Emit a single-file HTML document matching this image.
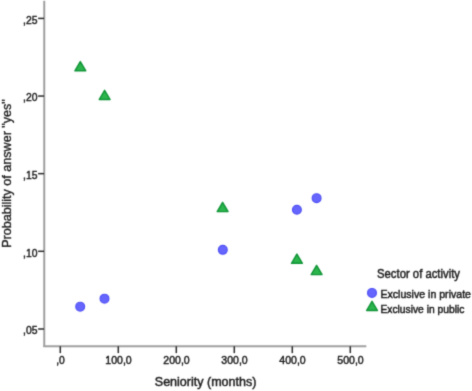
<!DOCTYPE html>
<html><head><meta charset="utf-8"><title>Chart</title>
<style>
html,body{margin:0;padding:0;background:#fff;}
svg{display:block;}
text{font-family:"Liberation Sans",Arial,sans-serif;fill:#1a1a1a;stroke:#1a1a1a;stroke-width:0.45px;}
.t11{font-size:11px;}
.t12{font-size:12.5px;}
</style></head><body>
<svg width="472" height="391" viewBox="0 0 472 391">
<defs><filter id="soft" x="-2%" y="-2%" width="104%" height="104%" color-interpolation-filters="sRGB"><feConvolveMatrix order="3" kernelMatrix="0.05 0.22 0.05 0.22 1 0.22 0.05 0.22 0.05" divisor="2.08" edgeMode="none" preserveAlpha="false"/></filter></defs>
<rect x="0" y="0" width="472" height="391" fill="#ffffff"/>
<g filter="url(#soft)">

<line x1="44.25" y1="0.8" x2="44.25" y2="347" stroke="#9a9a9a" stroke-width="1.9"/>
<line x1="43.4" y1="346.3" x2="366.3" y2="346.3" stroke="#9f9f9f" stroke-width="1.9"/>
<line x1="38.1" y1="18.4" x2="44" y2="18.4" stroke="#2a2a2a" stroke-width="1.5"/>
<text class="t11" style="font-size:11.5px" x="37.4" y="23.7" text-anchor="end" textLength="14.4" lengthAdjust="spacingAndGlyphs">,25</text>
<line x1="38.1" y1="96.05" x2="44" y2="96.05" stroke="#2a2a2a" stroke-width="1.5"/>
<text class="t11" style="font-size:11.5px" x="37.4" y="101.3" text-anchor="end" textLength="14.4" lengthAdjust="spacingAndGlyphs">,20</text>
<line x1="38.1" y1="173.65" x2="44" y2="173.65" stroke="#2a2a2a" stroke-width="1.5"/>
<text class="t11" style="font-size:11.5px" x="37.4" y="179.0" text-anchor="end" textLength="14.4" lengthAdjust="spacingAndGlyphs">,15</text>
<line x1="38.1" y1="251.3" x2="44" y2="251.3" stroke="#2a2a2a" stroke-width="1.5"/>
<text class="t11" style="font-size:11.5px" x="37.4" y="256.6" text-anchor="end" textLength="14.4" lengthAdjust="spacingAndGlyphs">,10</text>
<line x1="38.1" y1="329.0" x2="44" y2="329.0" stroke="#2a2a2a" stroke-width="1.5"/>
<text class="t11" style="font-size:11.5px" x="37.4" y="334.3" text-anchor="end" textLength="14.4" lengthAdjust="spacingAndGlyphs">,05</text>
<line x1="60.3" y1="346.3" x2="60.3" y2="353.1" stroke="#2a2a2a" stroke-width="1.5"/>
<text class="t11" x="60.5" y="364.2" text-anchor="middle" textLength="8.6" lengthAdjust="spacingAndGlyphs">,0</text>
<line x1="118.3" y1="346.3" x2="118.3" y2="353.1" stroke="#2a2a2a" stroke-width="1.5"/>
<text class="t11" x="118.5" y="364.2" text-anchor="middle" textLength="26.4" lengthAdjust="spacingAndGlyphs">100,0</text>
<line x1="176.3" y1="346.3" x2="176.3" y2="353.1" stroke="#2a2a2a" stroke-width="1.5"/>
<text class="t11" x="176.5" y="364.2" text-anchor="middle" textLength="26.4" lengthAdjust="spacingAndGlyphs">200,0</text>
<line x1="234.3" y1="346.3" x2="234.3" y2="353.1" stroke="#2a2a2a" stroke-width="1.5"/>
<text class="t11" x="234.5" y="364.2" text-anchor="middle" textLength="26.4" lengthAdjust="spacingAndGlyphs">300,0</text>
<line x1="292.3" y1="346.3" x2="292.3" y2="353.1" stroke="#2a2a2a" stroke-width="1.5"/>
<text class="t11" x="292.5" y="364.2" text-anchor="middle" textLength="26.4" lengthAdjust="spacingAndGlyphs">400,0</text>
<line x1="350.3" y1="346.3" x2="350.3" y2="353.1" stroke="#2a2a2a" stroke-width="1.5"/>
<text class="t11" x="350.5" y="364.2" text-anchor="middle" textLength="26.4" lengthAdjust="spacingAndGlyphs">500,0</text>
<text class="t12" x="205.6" y="386.1" text-anchor="middle" textLength="101.6" lengthAdjust="spacingAndGlyphs">Seniority (months)</text>
<text class="t12" style="font-size:13.2px;stroke-width:0.35px" transform="translate(11.35,173.5) rotate(-90)" text-anchor="middle" textLength="148.6" lengthAdjust="spacingAndGlyphs">Probability of answer "yes"</text>
<polygon points="80.3,61.6 74.9,70.8 85.8,70.8" fill="#2cb54c" stroke="#0f9436" stroke-width="1.4" stroke-linejoin="round"/>
<polygon points="104.6,90.3 99.2,99.5 110.1,99.5" fill="#2cb54c" stroke="#0f9436" stroke-width="1.4" stroke-linejoin="round"/>
<polygon points="222.6,202.4 217.2,211.6 228.1,211.6" fill="#2cb54c" stroke="#0f9436" stroke-width="1.4" stroke-linejoin="round"/>
<polygon points="296.9,254.1 291.5,263.3 302.4,263.3" fill="#2cb54c" stroke="#0f9436" stroke-width="1.4" stroke-linejoin="round"/>
<polygon points="316.6,265.4 311.2,274.6 322.1,274.6" fill="#2cb54c" stroke="#0f9436" stroke-width="1.4" stroke-linejoin="round"/>
<circle cx="80.2" cy="306.65" r="4.4" fill="#6666ff" stroke="#4e4ef4" stroke-width="1.2"/>
<circle cx="104.5" cy="298.65" r="4.4" fill="#6666ff" stroke="#4e4ef4" stroke-width="1.2"/>
<circle cx="222.8" cy="249.85" r="4.4" fill="#6666ff" stroke="#4e4ef4" stroke-width="1.2"/>
<circle cx="296.9" cy="209.75" r="4.4" fill="#6666ff" stroke="#4e4ef4" stroke-width="1.2"/>
<circle cx="316.6" cy="198.15" r="4.4" fill="#6666ff" stroke="#4e4ef4" stroke-width="1.2"/>
<text class="t12" style="font-size:12px" x="418.5" y="278.3" text-anchor="middle" textLength="83" lengthAdjust="spacingAndGlyphs">Sector of activity</text>
<circle cx="372.0" cy="292.90" r="4.4" fill="#6666ff" stroke="#4e4ef4" stroke-width="1.2"/>
<polygon points="372.0,301.3 366.6,310.5 377.5,310.5" fill="#2cb54c" stroke="#0f9436" stroke-width="1.4" stroke-linejoin="round"/>
<text class="t11" x="380.4" y="298.2" textLength="90.6" lengthAdjust="spacingAndGlyphs">Exclusive in private</text>
<text class="t11" x="380.4" y="312.5" textLength="84" lengthAdjust="spacingAndGlyphs">Exclusive in public</text>
</g></svg></body></html>
